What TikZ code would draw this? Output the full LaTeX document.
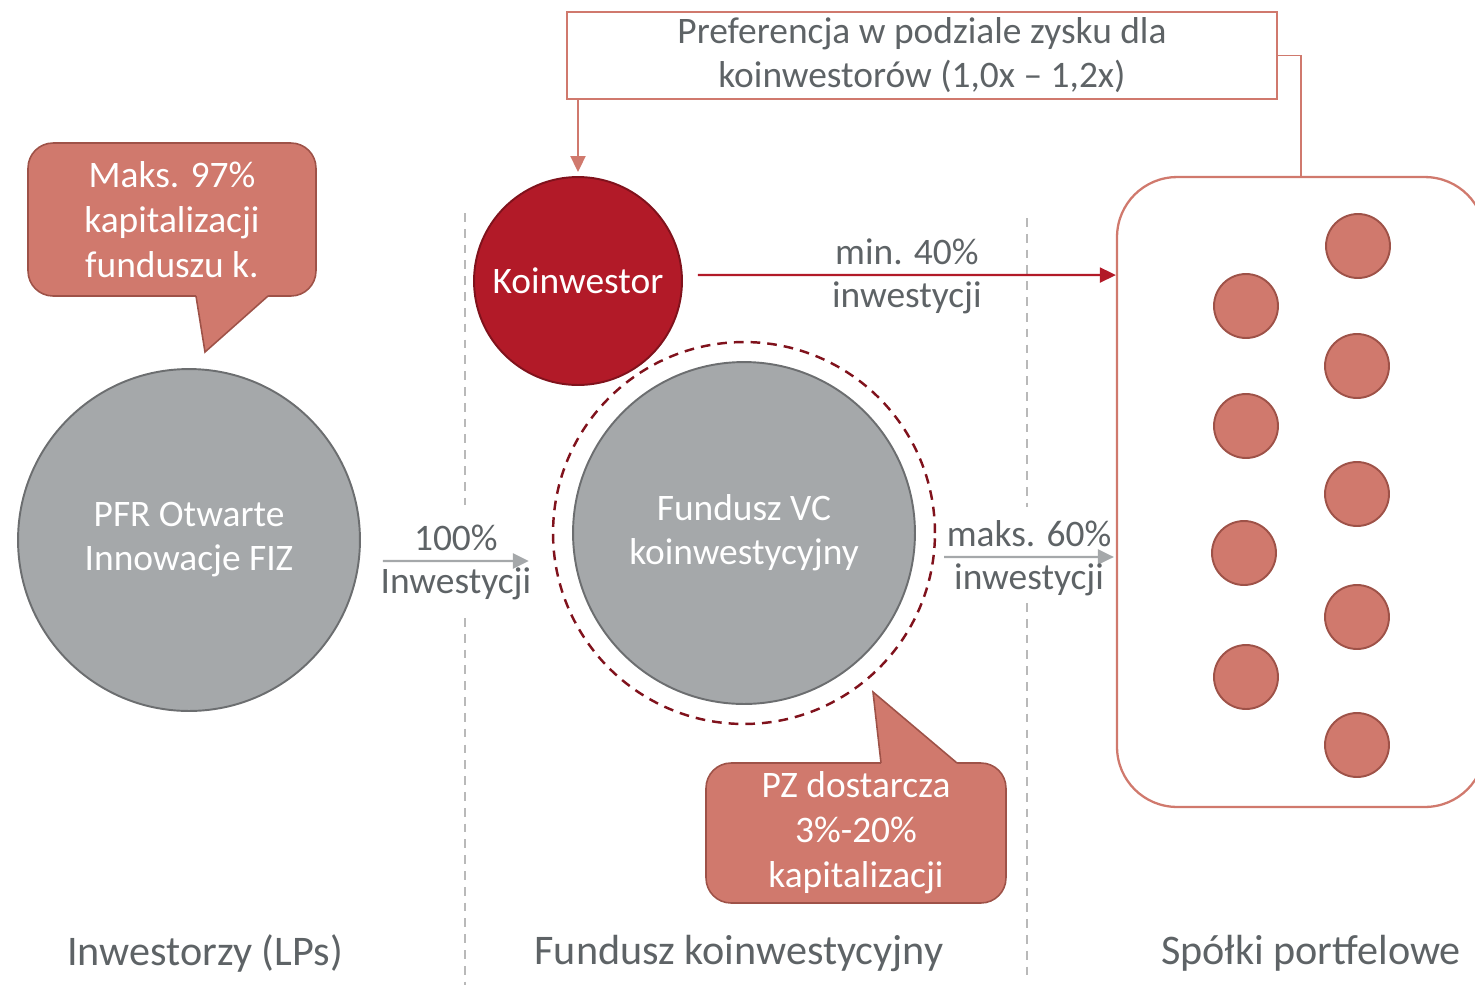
\documentclass[tikz,border=0pt]{standalone}
\usepackage{fontspec}
\setmainfont{Carlito}
\usetikzlibrary{arrows.meta}
\definecolor{tekst}{RGB}{94,99,102}
\definecolor{losos}{RGB}{208,121,109}
\definecolor{lososc}{RGB}{158,82,72}
\definecolor{czerw}{RGB}{178,26,40}
\definecolor{czerwc}{RGB}{128,18,28}
\definecolor{szary}{RGB}{165,168,170}
\definecolor{szaryc}{RGB}{108,110,112}
\definecolor{linia}{RGB}{185,185,185}
\tikzset{
    duzy/.style={
           circle,
           fill=szary, draw=szaryc, line width=1.1pt,
           minimum size=6.84cm, inner sep=0pt,
           align=center, text=white,
           font=\fontsize{21.3}{25}\selectfont},
    pierscien/.style={
           circle,
           draw=czerwc, line width=1.4pt,
           dash pattern=on 5.5pt off 4pt,
           minimum size=7.64cm, inner sep=0pt},
    koinw/.style={
           circle,
           fill=czerw, draw=czerwc, line width=1.1pt,
           minimum size=4.16cm, inner sep=0pt,
           text=white,
           font=\fontsize{21.3}{25}\selectfont},
    dymek/.style={
           rectangle,
           rounded corners=0.5cm,
           fill=losos, draw=lososc, line width=0.9pt,
           align=center, text=white,
           font=\fontsize{21.3}{25.5}\selectfont},
    prefbox/.style={
           rectangle,
           draw=losos, line width=1pt,
           minimum width=14.2cm, minimum height=1.74cm,
           align=center, text=tekst,
           font=\fontsize{21.3}{25}\selectfont},
    spolkibox/.style={
           rectangle,
           rounded corners=1.2cm,
           draw=losos, line width=1.3pt,
           minimum width=7.36cm, minimum height=12.6cm},
    spolka/.style={
           circle,
           fill=losos, draw=lososc, line width=1.1pt,
           minimum size=1.28cm, inner sep=0pt},
    etykieta/.style={
           text=tekst,
           font=\fontsize{24}{28}\selectfont},
    opis/.style={
           text=tekst,
           font=\fontsize{21.3}{25}\selectfont},
    szarastrz/.style={
           draw=szary, line width=1.4pt,
           -{Triangle[length=0.32cm,width=0.3cm]}},
    czerwstrz/.style={
           draw=czerw, line width=1.2pt,
           -{Triangle[length=0.32cm,width=0.3cm]}},
    podzial/.style={
           draw=linia, line width=0.8pt,
           dash pattern=on 5pt off 4pt}
}
\begin{document}
\begin{tikzpicture}[x=0.02cm,y=-0.02cm]
      \useasboundingbox (0,0) rectangle (1475,985);
      % linie podzialu kolumn
      \draw[podzial] (465,213) -- (465,505);
      \draw[podzial] (465,618) -- (465,985);
      \draw[podzial] (1027,218) -- (1027,507);
      \draw[podzial] (1027,603) -- (1027,980);

      \node[duzy] (pfr) at (189,540) {PFR Otwarte\\Innowacje FIZ};
      \node[pierscien] (ring) at (744,533) {};
      \node[duzy] (vc) at (744,533) {Fundusz VC\\koinwestycyjny};
      \node[koinw] (koin) at (578,281) {Koinwestor};
      \node[prefbox] (pref) at (922,55.5) {Preferencja w podziale zysku dla\\koinwestorów (1,0x – 1,2x)};
      \node[spolkibox] (spolki) at (1301,492) {};

      \node[spolka] (s1) at (1358,246) {};
      \node[spolka] (s2) at (1246,306) {};
      \node[spolka] (s3) at (1357,366) {};
      \node[spolka] (s4) at (1246,426) {};
      \node[spolka] (s5) at (1357,494) {};
      \node[spolka] (s6) at (1244,553) {};
      \node[spolka] (s7) at (1357,617) {};
      \node[spolka] (s8) at (1246,677) {};
      \node[spolka] (s9) at (1357,745) {};

      % dymki
      \node[dymek, minimum width=5.76cm, minimum height=3.06cm] (d1) at (172,219.5) {Maks. 97\%\\kapitalizacji\\funduszu k.};
      \fill[losos] (196,288) -- (196,296) -- (205,352) -- (268,296) -- (268,288) -- cycle;
      \draw[lososc, line width=0.9pt] (196,296) -- (205,352) -- (268,296);
      \node[dymek, minimum width=6cm, minimum height=2.8cm] (d2) at (856,833) {PZ dostarcza\\3\%-20\%\\kapitalizacji};
      \fill[losos] (881,771) -- (881,763) -- (873,692) -- (957,763) -- (957,771) -- cycle;
      \draw[lososc, line width=0.9pt] (881,763) -- (873,692) -- (957,763);

      \node[etykieta] (lps) at (205,953) {Inwestorzy (LPs)};
      \node[etykieta] (fk) at (739,953) {Fundusz koinwestycyjny};
      \node[etykieta] (sp) at (1311,953) {Spółki portfelowe};

      % przeplywy
      \draw[szarastrz] ([xshift=0.44cm,yshift=-0.42cm]pfr.east) -- ([xshift=-0.46cm,yshift=-0.56cm]ring.west)
            node[opis,midway,above=2pt] {100\%} node[opis,midway,below] {Inwestycji};
      \draw[szarastrz] ([xshift=0.16cm,yshift=-0.48cm]ring.east) -- ([xshift=-0.04cm,yshift=-1.3cm]spolki.west)
            node[opis,midway,above=2pt] {maks. 60\%} node[opis,midway,below] {inwestycji};
      \draw[czerwstrz] ([xshift=0.3cm,yshift=0.12cm]koin.east) -- ([yshift=4.34cm]spolki.west)
            node[opis,midway,above=2pt] {min. 40\%} node[opis,midway,below] {inwestycji};
      \draw[draw=losos, line width=1.1pt, -{Triangle[length=0.32cm,width=0.3cm]}] (koin.north |- pref.south) -- ([yshift=0.08cm]koin.north);
      \draw[losos, line width=0.7pt] (pref.east) -| (spolki.north);
\end{tikzpicture}
\end{document}
